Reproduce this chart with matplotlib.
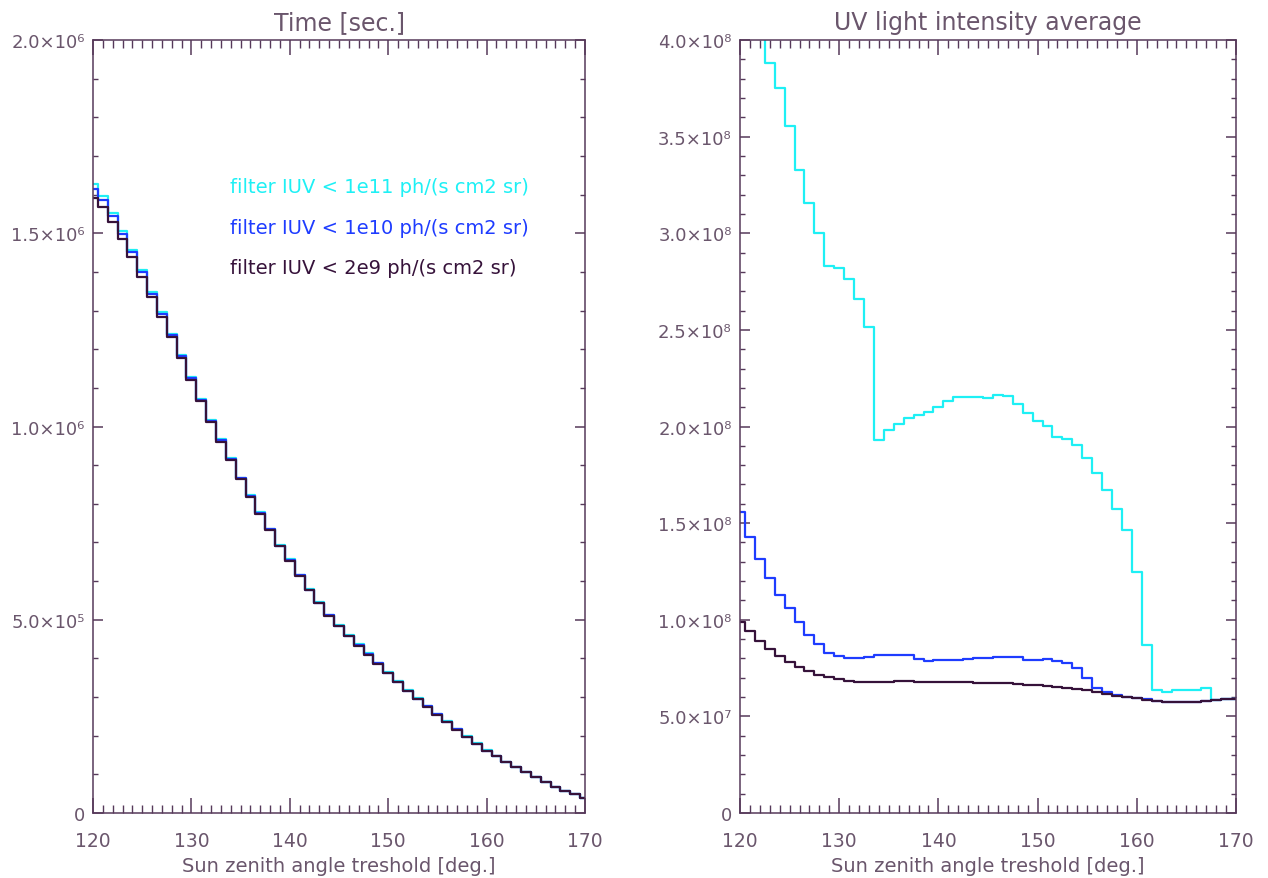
import numpy as np
import matplotlib
matplotlib.use("Agg")
import matplotlib.pyplot as plt
from matplotlib.ticker import MultipleLocator

# ---------------- data ----------------
angles = list(range(120, 171))  # Sun zenith angle threshold [deg.]

# Time [sec.] (units of 1e6 s)
time_1e11 = [1.627, 1.597, 1.552, 1.505, 1.457, 1.406, 1.349, 1.295, 1.240, 1.186,
             1.127, 1.071, 1.017, 0.967, 0.918, 0.868, 0.822, 0.778, 0.736, 0.693,
             0.656, 0.617, 0.580, 0.546, 0.513, 0.487, 0.460, 0.436, 0.413, 0.389,
             0.365, 0.341, 0.318, 0.297, 0.277, 0.257, 0.237, 0.218, 0.198, 0.180,
             0.162, 0.147, 0.133, 0.118, 0.105, 0.092, 0.081, 0.067, 0.058, 0.048,
             0.040]
time_1e10 = [1.614, 1.586, 1.544, 1.498, 1.451, 1.399, 1.344, 1.292, 1.238, 1.182,
             1.125, 1.069, 1.014, 0.964, 0.916, 0.866, 0.820, 0.776, 0.734, 0.691,
             0.654, 0.615, 0.578, 0.544, 0.511, 0.485, 0.458, 0.434, 0.411, 0.387,
             0.363, 0.339, 0.316, 0.295, 0.276, 0.255, 0.236, 0.217, 0.197, 0.179,
             0.161, 0.147, 0.133, 0.118, 0.105, 0.092, 0.081, 0.067, 0.058, 0.048,
             0.040]
time_2e9 = [1.591, 1.567, 1.530, 1.485, 1.438, 1.388, 1.336, 1.284, 1.231, 1.177,
            1.121, 1.065, 1.011, 0.961, 0.914, 0.864, 0.818, 0.774, 0.732, 0.690,
            0.653, 0.614, 0.577, 0.543, 0.510, 0.484, 0.457, 0.433, 0.410, 0.386,
            0.362, 0.338, 0.315, 0.294, 0.275, 0.254, 0.235, 0.216, 0.197, 0.179,
            0.161, 0.147, 0.133, 0.118, 0.105, 0.092, 0.081, 0.067, 0.058, 0.048,
            0.040]

# UV light intensity average (units of 1e8)
uv_1e11 = [4.80, 4.40, 4.10, 3.879, 3.753, 3.553, 3.327, 3.155, 2.999, 2.832,
           2.822, 2.762, 2.661, 2.513, 1.932, 1.982, 2.011, 2.044, 2.061, 2.077,
           2.101, 2.130, 2.154, 2.154, 2.153, 2.149, 2.165, 2.158, 2.116, 2.070,
           2.030, 2.003, 1.946, 1.935, 1.906, 1.839, 1.759, 1.673, 1.572, 1.462,
           1.245, 0.869, 0.636, 0.628, 0.635, 0.635, 0.635, 0.647, 0.586, 0.588,
           0.591]
uv_1e10 = [1.559, 1.430, 1.316, 1.218, 1.128, 1.062, 0.988, 0.923, 0.876, 0.830,
           0.814, 0.802, 0.802, 0.807, 0.816, 0.819, 0.819, 0.819, 0.797, 0.788,
           0.790, 0.792, 0.793, 0.797, 0.800, 0.804, 0.806, 0.806, 0.806, 0.793,
           0.793, 0.797, 0.787, 0.775, 0.750, 0.697, 0.646, 0.625, 0.610, 0.600,
           0.595, 0.590, 0.578, 0.574, 0.572, 0.573, 0.576, 0.580, 0.586, 0.588,
           0.591]
uv_2e9 = [0.987, 0.942, 0.892, 0.850, 0.811, 0.780, 0.757, 0.735, 0.716, 0.702,
          0.692, 0.685, 0.680, 0.676, 0.676, 0.680, 0.683, 0.683, 0.680, 0.678,
          0.676, 0.676, 0.676, 0.676, 0.673, 0.673, 0.671, 0.671, 0.666, 0.662,
          0.662, 0.655, 0.650, 0.645, 0.640, 0.634, 0.627, 0.618, 0.608, 0.600,
          0.593, 0.585, 0.578, 0.574, 0.572, 0.573, 0.576, 0.580, 0.586, 0.588,
          0.591]

legend_labels = ["filter IUV < 1e11 ph/(s cm2 sr)",
                 "filter IUV < 1e10 ph/(s cm2 sr)",
                 "filter IUV < 2e9 ph/(s cm2 sr)"]

left_ticks = [0, 0.5e6, 1.0e6, 1.5e6, 2.0e6]
left_ticklabels = ["0", "5.0×10⁵", "1.0×10⁶", "1.5×10⁶", "2.0×10⁶"]
right_ticks = [0, 0.5e8, 1.0e8, 1.5e8, 2.0e8, 2.5e8, 3.0e8, 3.5e8, 4.0e8]
right_ticklabels = ["0", "5.0×10⁷", "1.0×10⁸", "1.5×10⁸", "2.0×10⁸",
                    "2.5×10⁸", "3.0×10⁸", "3.5×10⁸", "4.0×10⁸"]
x_ticks = [120, 130, 140, 150, 160, 170]

# ---------------- style ----------------
c_cyan = "#1ef0f5"
c_blue = "#1e3cff"
c_dark = "#36123a"
axis_col = "#56395a"
text_col = "#6a566c"
colors = [c_cyan, c_blue, c_dark]

plt.rcParams["font.family"] = ["DejaVu Sans"]

W, H = 1268, 879
fig = plt.figure(figsize=(W / 100, H / 100), dpi=100)
ax1 = fig.add_axes([93 / W, (H - 814) / H, 492 / W, 773 / H])
ax2 = fig.add_axes([740 / W, (H - 814) / H, 496 / W, 773 / H])

x = np.array(angles)

for series, c in zip([time_1e11, time_1e10, time_2e9], colors):
    ax1.step(x, np.array(series) * 1e6, where="mid", color=c, lw=1.6)
for series, c in zip([uv_1e11, uv_1e10, uv_2e9], colors):
    ax2.step(x, np.array(series) * 1e8, where="mid", color=c, lw=1.6)


def style(ax, ymax, yminor, yticks, ylabels, title):
    ax.set_xlim(120, 170)
    ax.set_ylim(0, ymax)
    ax.set_xticks(x_ticks)
    ax.set_xticklabels([str(t) for t in x_ticks])
    ax.xaxis.set_minor_locator(MultipleLocator(1))
    ax.set_yticks(yticks)
    ax.set_yticklabels(ylabels)
    ax.yaxis.set_minor_locator(MultipleLocator(yminor))
    for s in ax.spines.values():
        s.set_color(axis_col)
        s.set_linewidth(1.1)
    ax.tick_params(axis="x", which="major", direction="in", length=11, width=1.1,
                   top=True, bottom=True, color=axis_col, labelcolor=text_col,
                   labelsize=13.5, pad=13)
    ax.tick_params(axis="x", which="minor", direction="in", length=5.5, width=1.0,
                   top=True, bottom=True, color=axis_col)
    ax.tick_params(axis="y", which="major", direction="in", length=7, width=1.1,
                   left=True, right=True, color=axis_col, labelcolor=text_col,
                   labelsize=13, pad=6)
    ax.tick_params(axis="y", which="minor", direction="in", length=3.5, width=1.0,
                   left=True, right=True, color=axis_col)
    ax.set_xlabel("Sun zenith angle treshold [deg.]", color=text_col, fontsize=14,
                  labelpad=4)
    ax.set_title(title, color=text_col, fontsize=17, pad=8)


style(ax1, 2.0e6, 0.1e6, left_ticks, left_ticklabels, "Time [sec.]")
style(ax2, 4.0e8, 0.1e8, right_ticks, right_ticklabels, "UV light intensity average")

for lbl, c, yy in zip(legend_labels, colors, [0.810, 0.758, 0.706]):
    ax1.text(0.278, yy, lbl, transform=ax1.transAxes, color=c, fontsize=14,
             va="center", ha="left")

fig.savefig("out.png", dpi=100)
